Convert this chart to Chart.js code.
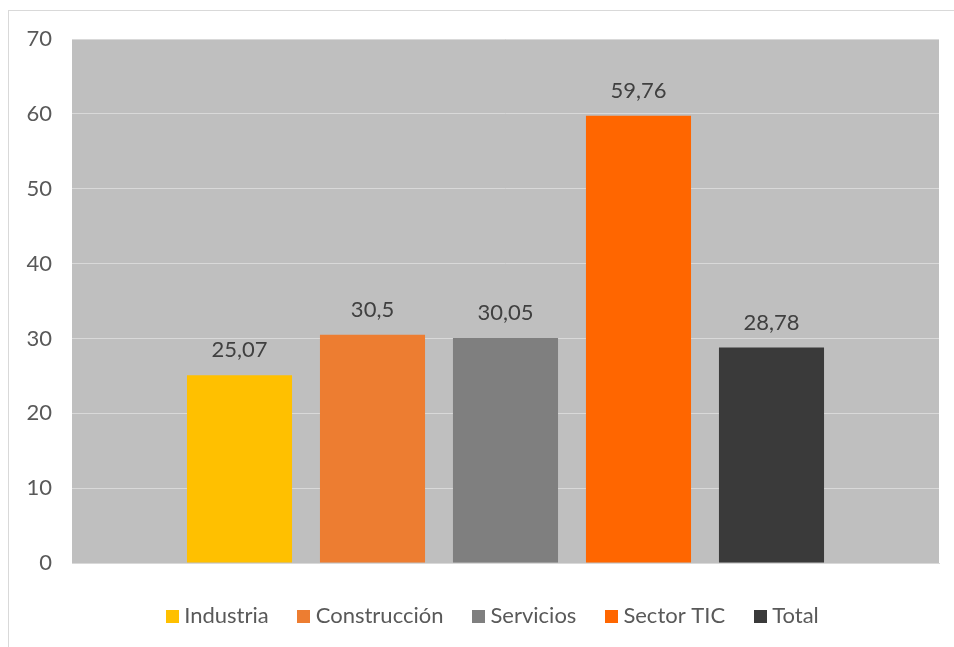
<!DOCTYPE html>
<html>
<head>
<meta charset="utf-8">
<script src="https://cdn.jsdelivr.net/npm/chart.js@4"></script>
<style>
    html, body { margin: 0; padding: 0; background: #fff; overflow: hidden; }
    #marco {
        position: absolute; left: 8px; top: 10px;
        width: 960px; height: 660px;
        border: 1px solid #d9d9d9;
    }
    #grafico { position: absolute; left: 0; top: 0; }
</style>
</head>
<body>
<div id="marco"><canvas id="grafico" width="945" height="650"></canvas></div>
<script>
/* DADOS */
const categorias = ["Industria", "Construcción", "Servicios", "Sector TIC", "Total"];
const valores = [25.07, 30.5, 30.05, 59.76, 28.78];
const cores = ["#ffc000", "#ed7d31", "#7f7f7f", "#ff6600", "#3a3a3a"];
const ticksY = [0, 10, 20, 30, 40, 50, 60, 70];

const fonte = "Lato, 'Open Sans', sans-serif";

/* QUADRADINHO DA LEGENDA */
function quadrado(cor) {
    const c = document.createElement("canvas");
    c.width = 13;
    c.height = 13;
    const g = c.getContext("2d");
    g.fillStyle = cor;
    g.fillRect(0, 0, 13, 13);
    return c;
}

/* FUNDO DA AREA DO GRAFICO + LEGENDA CENTRADA NA AREA */
const fundoPlot = {
    id: "fundoPlot",
    afterLayout(chart) {
        chart.legend.left += 21;
        chart.legend.right += 21;
    },
    beforeDraw(chart) {
        const a = chart.chartArea;
        const ctx = chart.ctx;
        ctx.save();
        ctx.fillStyle = "#bfbfbf";
        ctx.fillRect(a.left, a.top, a.right - a.left, a.bottom - a.top);
        ctx.restore();
    }
};

/* ROTULOS DOS VALORES */
const rotulos = {
    id: "rotulos",
    afterDatasetsDraw(chart) {
        const ctx = chart.ctx;
        ctx.save();
        ctx.font = "22px " + fonte;
        ctx.fillStyle = "#404040";
        ctx.textAlign = "center";
        ctx.textBaseline = "bottom";
        chart.data.datasets.forEach((ds, i) => {
            const el = chart.getDatasetMeta(i).data[0];
            const txt = String(ds.data[0]).replace(".", ",");
            ctx.fillText(txt, el.x, el.y - 14);
        });
        ctx.restore();
    }
};

new Chart(document.getElementById("grafico"), {
    type: "bar",
    data: {
        labels: [""],
        datasets: categorias.map((c, i) => ({
            label: c,
            data: [valores[i]],
            backgroundColor: cores[i],
            categoryPercentage: 0.767,
            barPercentage: 0.79
        }))
    },
    options: {
        responsive: false,
        animation: false,
        layout: { padding: { top: 28, right: 15, left: 0, bottom: 24 } },
        scales: {
            x: {
                afterFit(s) { s.height = 8; },
                ticks: { display: false },
                grid: { display: false },
                border: { display: true, color: "#d9d9d9" }
            },
            y: {
                min: 0,
                max: 70,
                afterBuildTicks(s) { s.ticks = ticksY.map(v => ({ value: v })); },
                afterFit(s) { s.width = 63; s.paddingTop = 0; s.paddingBottom = 0; },
                ticks: {
                    padding: 20,
                    color: "#595959",
                    font: { family: fonte, size: 22 }
                },
                grid: { color: "#d9d9d9", lineWidth: 1, drawTicks: false },
                border: { display: false }
            }
        },
        plugins: {
            legend: {
                position: "bottom",
                labels: {
                    usePointStyle: true,
                    pointStyleWidth: 2,
                    padding: 34,
                    color: "#595959",
                    font: { family: fonte, size: 22 },
                    generateLabels(chart) {
                        const itens = Chart.defaults.plugins.legend.labels.generateLabels(chart);
                        return itens.map((it, i) => Object.assign(it, { pointStyle: quadrado(cores[i]) }));
                    }
                }
            },
            tooltip: { enabled: false }
        }
    },
    plugins: [fundoPlot, rotulos]
});
</script>
</body>
</html>
